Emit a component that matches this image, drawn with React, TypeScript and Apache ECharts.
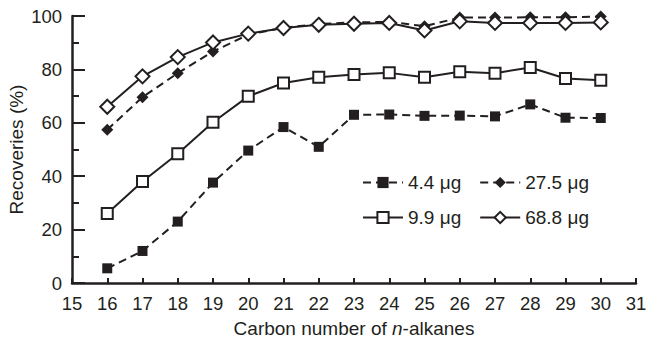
import React, { useEffect, useRef } from "react";
import * as echarts from "echarts";

const carbon = [16, 17, 18, 19, 20, 21, 22, 23, 24, 25, 26, 27, 28, 29, 30];
const s44 = [5.5, 12, 23, 37.6, 49.6, 58.4, 51, 63, 63.1, 62.6, 62.7, 62.4, 66.9, 61.9, 61.8];
const s99 = [26, 38, 48.4, 60.2, 69.9, 74.9, 77.1, 78.1, 78.7, 77.1, 79.1, 78.6, 80.7, 76.6, 75.9];
const s275 = [57.4, 69.6, 78.6, 86.7, 93, 95.6, 97, 97.6, 97.8, 96.2, 99.4, 99.4, 99.5, 99.5, 99.8];
const s688 = [66, 77.4, 84.6, 90.1, 93.4, 95.5, 96.7, 97.1, 97.4, 94.6, 98, 97.4, 97.4, 97.4, 97.6];
const names = ["4.4 μg", "27.5 μg", "9.9 μg", "68.8 μg"];

const INK = "#231f20";
const FONT = "Liberation Sans, Arial, sans-serif";

export default function App() {
  const ref = useRef<HTMLDivElement>(null);
  useEffect(() => {
    if (!ref.current) return;
    const chart = echarts.init(ref.current, undefined, { renderer: "svg" });
    const pts = (arr: number[]) => carbon.map((c, i) => [c, arr[i]]);
    const dash = [8, 5];
    const legendText = { fontFamily: FONT, fontSize: 19, color: INK, padding: [0, 0, 0, 0] };
    chart.setOption({
      animation: false,
      textStyle: { fontFamily: FONT, color: INK },
      grid: { left: 72, right: 10, top: 16, bottom: 56, containLabel: false, outerBoundsMode: "none" },
      legend: [
        {
          data: [names[0], names[1]],
          left: 357,
          top: 168,
          itemWidth: 40,
          itemHeight: 14,
          itemGap: 18,
          textStyle: legendText,
        },
        {
          data: [names[2], names[3]],
          left: 357,
          top: 203,
          itemWidth: 40,
          itemHeight: 14,
          itemGap: 18,
          textStyle: legendText,
        },
      ],
      xAxis: {
        type: "value",
        min: 15,
        max: 31,
        interval: 1,
        name: "{a|Carbon number of }{i|n}{a|-alkanes}",
        nameLocation: "middle",
        nameGap: 36,
        nameMoveOverlap: false,
        nameTextStyle: {
          rich: {
            a: { fontFamily: FONT, fontSize: 19, color: INK },
            i: { fontFamily: FONT, fontSize: 19, color: INK, fontStyle: "italic" },
          },
        },
        axisLine: { lineStyle: { color: INK, width: 2.5 } },
        axisTick: { inside: true, length: 5, lineStyle: { color: INK, width: 2 } },
        axisLabel: { fontFamily: FONT, fontSize: 18.5, color: INK, margin: 11 },
        splitLine: { show: false },
      },
      yAxis: {
        type: "value",
        min: 0,
        max: 100,
        interval: 20,
        name: "Recoveries (%)",
        nameLocation: "middle",
        nameGap: 46,
        nameMoveOverlap: false,
        nameTextStyle: { fontFamily: FONT, fontSize: 19, color: INK },
        axisLine: { show: true, lineStyle: { color: INK, width: 2.5 } },
        axisTick: { show: true, inside: true, length: 13, lineStyle: { color: INK, width: 2 } },
        minorTick: { show: true, splitNumber: 2, length: 7, lineStyle: { color: INK, width: 2 } },
        axisLabel: { fontFamily: FONT, fontSize: 18.5, color: INK, margin: 10 },
        splitLine: { show: false },
      },
      series: [
        {
          name: names[0],
          type: "line",
          data: pts(s44),
          symbol: "rect",
          symbolSize: 10,
          itemStyle: { color: INK, borderColor: INK, borderWidth: 0 },
          lineStyle: { color: INK, width: 2, type: dash },
        },
        {
          name: names[2],
          type: "line",
          data: pts(s99),
          symbol: "rect",
          symbolSize: 11,
          itemStyle: { color: "#fff", borderColor: INK, borderWidth: 2 },
          lineStyle: { color: INK, width: 2 },
        },
        {
          name: names[1],
          type: "line",
          data: pts(s275),
          symbol: "diamond",
          symbolSize: 12,
          itemStyle: { color: INK, borderColor: INK, borderWidth: 0 },
          lineStyle: { color: INK, width: 2, type: dash },
        },
        {
          name: names[3],
          type: "line",
          data: pts(s688),
          symbol: "diamond",
          symbolSize: 14,
          itemStyle: { color: "#fff", borderColor: INK, borderWidth: 2 },
          lineStyle: { color: INK, width: 2 },
        },
      ],
    });
    return () => chart.dispose();
  }, []);
  return <div ref={ref} style={{ width: 646, height: 339, position: "absolute", left: 0, top: 0 }} />;
}
